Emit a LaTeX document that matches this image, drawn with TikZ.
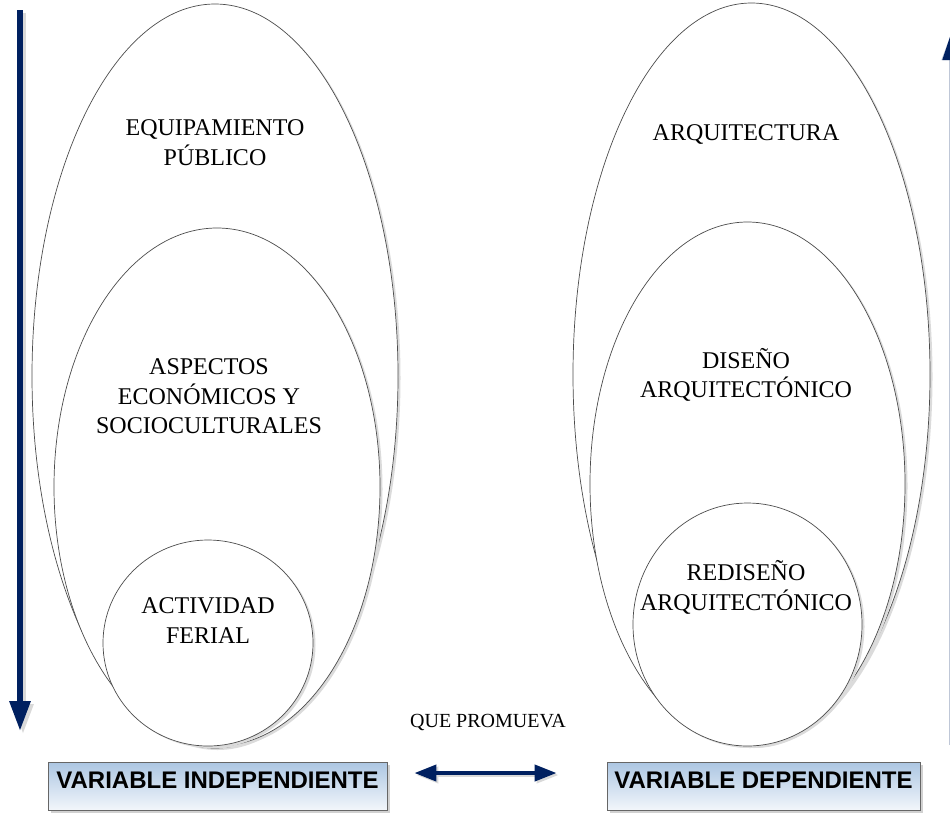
\documentclass[tikz,border=0pt]{standalone}
\usepackage{fontspec}
\setmainfont{Liberation Serif}
\setsansfont{Liberation Sans}
\usetikzlibrary{shapes.geometric,shadows,arrows.meta}
\definecolor{navy}{RGB}{0,32,96}
\definecolor{boxtop}{RGB}{172,198,226}
\definecolor{boxbot}{RGB}{242,246,251}
\begin{document}
\begin{tikzpicture}[x=1pt,y=-1pt,
  oval/.style={ellipse, draw=black!70, line width=0.7pt, fill=white, inner sep=0pt,
    drop shadow={shadow xshift=2.5pt, shadow yshift=-2pt, fill=black!14, opacity=1}},
  lbl/.style={align=center, font=\fontsize{24}{29.5}\selectfont, inner sep=0pt},
  vbox/.style={draw=black!60, line width=0.8pt, top color=boxtop, bottom color=boxbot,
    minimum height=48pt, inner sep=0pt,
    drop shadow={shadow xshift=2.5pt, shadow yshift=-2.5pt, fill=black!18, opacity=1}},
  boxtext/.style={font=\sffamily\bfseries\fontsize{24}{28}\selectfont, inner sep=0pt},
  bigarrow/.style={draw=navy, line width=6pt, -{Triangle[length=30pt,width=20pt]}},
  bigshadow/.style={draw=black!15, line width=6pt, -{Triangle[length=30pt,width=20pt]}},
  dblarrow/.style={draw=navy, line width=4pt, {Triangle[length=22pt,width=16pt]}-{Triangle[length=22pt,width=16pt]}},
  dblshadow/.style={draw=black!15, line width=4pt, {Triangle[length=22pt,width=16pt]}-{Triangle[length=22pt,width=16pt]}}
]
\useasboundingbox (0,0) rectangle (950,812);

% left ellipses
\node[oval, minimum width=366pt, minimum height=744pt] (lo) at (215,376) {};
\node[oval, minimum width=326pt, minimum height=518pt] (lm) at (217,487) {};
\node[oval, minimum width=210pt, minimum height=206pt] (li) at (208,643) {};
\node[lbl] (t1) at (215,142.5) {EQUIPAMIENTO\\PÚBLICO};
\node[lbl] (t2) at (209,396.5) {ASPECTOS\\ECONÓMICOS Y\\SOCIOCULTURALES};
\node[lbl] (t3) at (208,620.5) {ACTIVIDAD\\FERIAL};

% right ellipses
\node[oval, minimum width=357pt, minimum height=743pt] (ro) at (751.5,374.5) {};
\node[oval, minimum width=315pt, minimum height=524pt] (rm) at (747.5,484) {};
\node[oval, minimum width=229pt, minimum height=243pt] (ri) at (747.5,624.5) {};
\node[lbl] (t4) at (746,134) {ARQUITECTURA};
\node[lbl] (t5) at (746,375) {DISEÑO\\ARQUITECTÓNICO};
\node[lbl] (t6) at (746,587.5) {REDISEÑO\\ARQUITECTÓNICO};

% boxes
\node[vbox, minimum width=339pt] (vi) at (217.5,786) {};
\node[boxtext] (vit) at ([yshift=6pt]vi.center) {VARIABLE INDEPENDIENTE};
\node[vbox, minimum width=313pt] (vd) at (763.5,786) {};
\node[boxtext] (vdt) at ([yshift=6pt]vd.center) {VARIABLE DEPENDIENTE};

\node[font=\fontsize{20}{24}\selectfont, inner sep=0pt] (qp) at (488,722) {QUE PROMUEVA};

% arrows
\coordinate (la1) at (20,10);
\coordinate (la2) at (20,731);
\coordinate (las1) at (23,13);
\coordinate (las2) at (23,734);
\draw[bigshadow] (las1) -- (las2);
\draw[bigarrow] (la1) -- (la2);

\coordinate (ra1) at (952.3,745);
\coordinate (ra2) at (952.3,30);
\draw[bigarrow, draw=navy!25] (ra1) -- (ra2);
\fill[navy] (952.3,30) -- (942.3,60) -- (962.3,60) -- cycle;

\coordinate (da1) at ([xshift=27pt,yshift=13pt]vi.east);
\coordinate (da2) at ([xshift=-50pt,yshift=13pt]vd.west);
\draw[dblshadow] ([xshift=2pt,yshift=-2pt]da1) -- ([xshift=2pt,yshift=-2pt]da2);
\draw[dblarrow] (da1) -- (da2);
\end{tikzpicture}
\end{document}
